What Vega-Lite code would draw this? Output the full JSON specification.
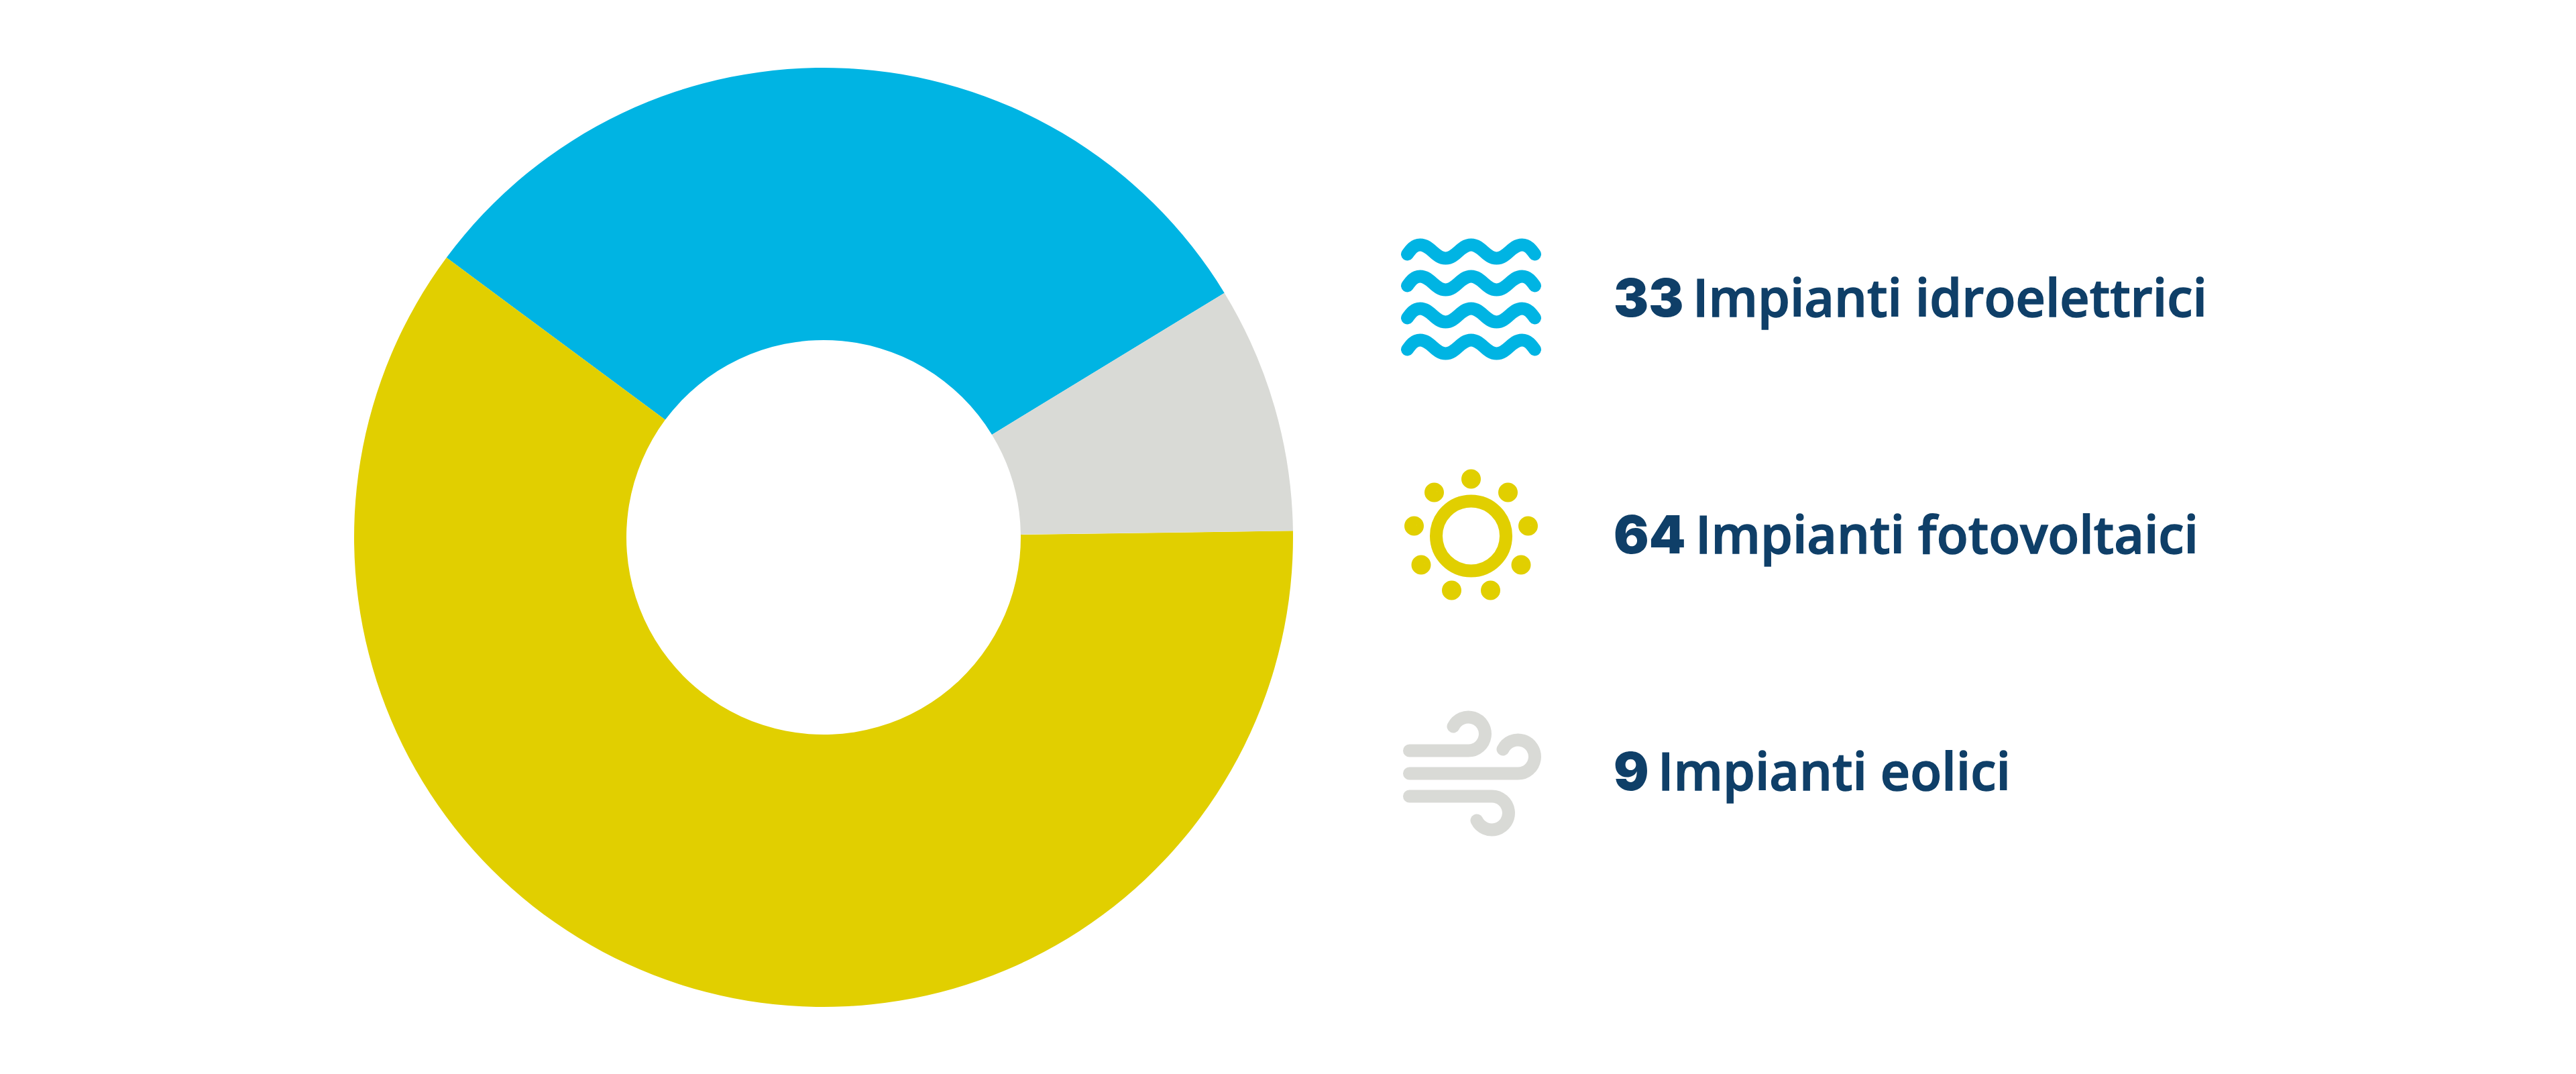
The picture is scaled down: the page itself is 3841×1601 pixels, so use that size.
{
  "$schema": "https://vega.github.io/schema/vega-lite/v6.json",
  "background": "white",
  "padding": {"left": 528, "top": 1, "right": 0, "bottom": 0},
  "spacing": 0,
  "config": {"view": {"stroke": null}},
  "data": {
    "values": [
      {"tipo": "Impianti idroelettrici", "n": 33, "ordine": 2},
      {"tipo": "Impianti fotovoltaici", "n": 64, "ordine": 1},
      {"tipo": "Impianti eolici", "n": 9, "ordine": 3}
    ]
  },
  "hconcat": [
    {
      "width": 1400,
      "height": 1600,
      "mark": {"type": "arc", "outerRadius": 700, "innerRadius": 294},
      "encoding": {
        "theta": {
          "field": "n",
          "type": "quantitative",
          "stack": true,
          "scale": {"domain": [0, 106], "range": [1.557, 7.84]}
        },
        "order": {"field": "ordine", "type": "ordinal"},
        "color": {
          "field": "tipo",
          "type": "nominal",
          "legend": null,
          "scale": {
            "domain": ["Impianti idroelettrici", "Impianti fotovoltaici", "Impianti eolici"],
            "range": ["#00b4e3", "#e1cf00", "#d9dad6"]
          }
        }
      }
    },
    {
      "width": 1913,
      "height": 1600,
      "encoding": {
        "y": {
          "field": "tipo",
          "type": "nominal",
          "axis": null,
          "sort": null,
          "scale": {
            "type": "point",
            "padding": 0,
            "range": [445, 1151],
            "domain": ["Impianti idroelettrici", "Impianti fotovoltaici", "Impianti eolici"]
          }
        }
      },
      "layer": [
        {
          "mark": {"type": "point", "filled": false, "size": 4, "strokeWidth": 19, "strokeCap": "round", "opacity": 1},
          "encoding": {
            "x": {"datum": "icona", "axis": null, "scale": {"type": "point", "padding": 0, "range": [265.5, 478], "domain": ["icona", "testo"]}},
            "color": {
              "field": "tipo",
              "type": "nominal",
              "legend": null,
              "scale": {
                "domain": ["Impianti idroelettrici", "Impianti fotovoltaici", "Impianti eolici"],
                "range": ["#00b4e3", "#e1cf00", "#d9dad6"]
              }
            },
            "shape": {
              "field": "tipo",
              "type": "nominal",
              "legend": null,
              "scale": {
                "domain": ["Impianti idroelettrici", "Impianti fotovoltaici", "Impianti eolici"],
                "range": [
                  "M-95,-67C-90,-74 -85,-81 -76,-81C-60,-81 -54,-61 -38,-61C-22,-61 -16,-81 0,-81C16,-81 22,-61 38,-61C54,-61 60,-81 76,-81C85,-81 90,-74 95,-67M-95,-20C-90,-27 -85,-34 -76,-34C-60,-34 -54,-14 -38,-14C-22,-14 -16,-34 0,-34C16,-34 22,-14 38,-14C54,-14 60,-34 76,-34C85,-34 90,-27 95,-20M-95,28C-90,21 -85,14 -76,14C-60,14 -54,34 -38,34C-22,34 -16,14 0,14C16,14 22,34 38,34C54,34 60,14 76,14C85,14 90,21 95,28M-95,75C-90,68 -85,61 -76,61C-60,61 -54,81 -38,81C-22,81 -16,61 0,61C16,61 22,81 38,81C54,81 60,61 76,61C85,61 90,68 95,75",
                  "M52,0A52,52 0 1 1 -52,0A52,52 0 1 1 52,0M-5,-85a5,5 0 1 0 10,0a5,5 0 1 0 -10,0M-60,-65a5,5 0 1 0 10,0a5,5 0 1 0 -10,0M50,-65a5,5 0 1 0 10,0a5,5 0 1 0 -10,0M-90,-15a5,5 0 1 0 10,0a5,5 0 1 0 -10,0M80,-15a5,5 0 1 0 10,0a5,5 0 1 0 -10,0M-79.5,43a5,5 0 1 0 10,0a5,5 0 1 0 -10,0M69.5,43a5,5 0 1 0 10,0a5,5 0 1 0 -10,0M-34,81a5,5 0 1 0 10,0a5,5 0 1 0 -10,0M24,81a5,5 0 1 0 10,0a5,5 0 1 0 -10,0",
                  "M-92,-33L-4,-33A25,25 0 1 0 -26.5,-69M-92,1L70,1A25,25 0 1 0 47.5,-35M-92,35L31,35A25,25 0 1 1 8.5,71"
                ]
              }
            }
          }
        },
        {
          "mark": {"type": "text", "align": "left", "baseline": "middle", "dy": 3, "font": "Inter", "fontWeight": 900, "fontSize": 78, "color": "#0f3f68"},
          "encoding": {
            "x": {"datum": "testo", "axis": null, "scale": {"type": "point", "padding": 0, "range": [265.5, 478], "domain": ["icona", "testo"]}},
            "text": {"field": "n", "type": "quantitative"}
          }
        },
        {
          "mark": {
            "type": "text",
            "align": "left",
            "baseline": "middle",
            "dy": 3,
            "font": "Open Sans",
            "fontWeight": 600,
            "fontSize": 77,
            "color": "#0f3f68",
            "stroke": "#0f3f68",
            "strokeWidth": 1.5,
            "dx": {"expr": "datum.n < 10 ? 66 : datum.n == 64 ? 122 : 118"}
          },
          "encoding": {
            "x": {"datum": "testo", "axis": null, "scale": {"type": "point", "padding": 0, "range": [265.5, 478], "domain": ["icona", "testo"]}},
            "text": {"field": "tipo", "type": "nominal"}
          }
        }
      ]
    }
  ]
}
